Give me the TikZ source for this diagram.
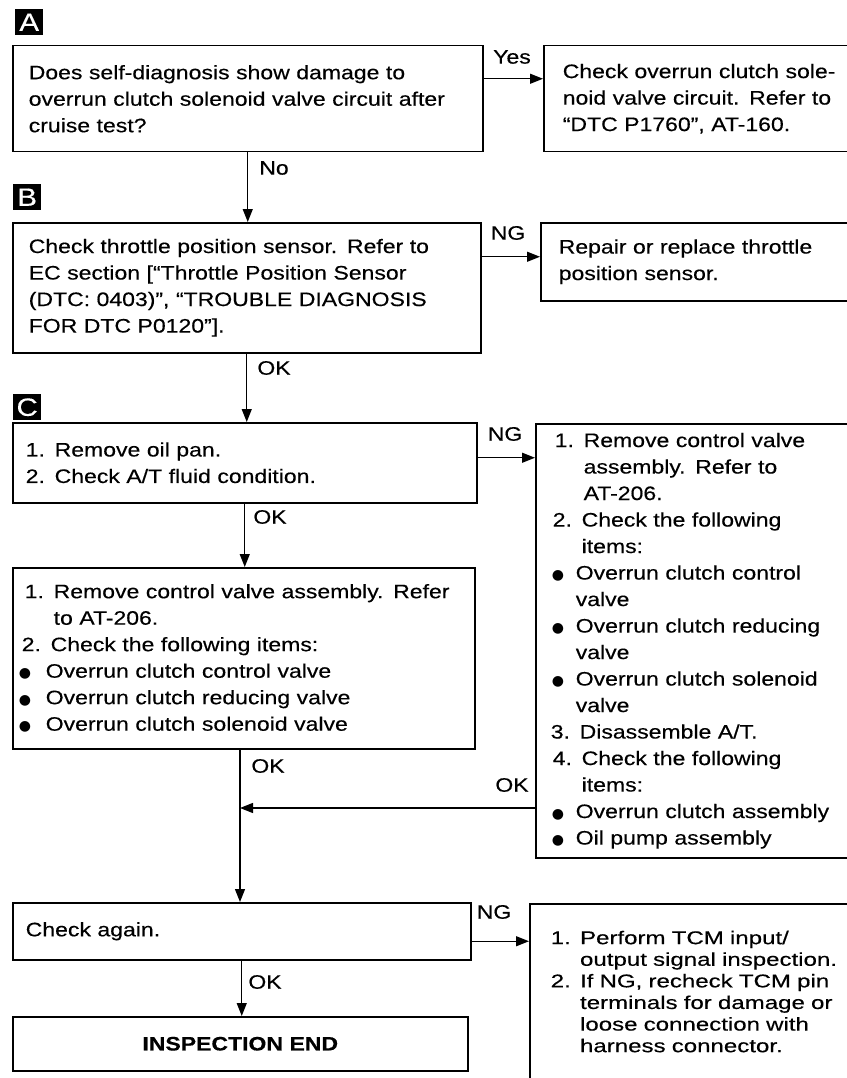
\documentclass[tikz,border=0pt]{standalone}
\usepackage{fontspec}
\setmainfont{Liberation Sans}[FakeStretch=1.18,FakeBold=0.35]
\newfontfamily\widefont{Liberation Sans}[FakeStretch=1.3,FakeBold=0.35]
\newfontfamily\symfont{DejaVu Sans}
\usetikzlibrary{arrows.meta}
\newcommand{\lbx}[2]{\makebox[#1][l]{#2}}
\newcommand{\blt}{{\symfont\fontsize{14}{14}\selectfont ●}}
\tikzset{
  txt/.style={font=\fontsize{19.5}{26.5}\selectfont},
  box/.style={txt, draw, line width=1.5pt, anchor=north west, align=left, inner ysep=0pt},
  arr/.style={line width=1.3pt, -{Triangle[length=13pt,width=10pt]}},
  tag/.style={fill=black, text=white, anchor=north west, inner sep=0pt,
    minimum width=28pt, minimum height=26pt, font=\fontsize{25}{25}\selectfont}
}
\begin{document}
\begin{tikzpicture}[x=1pt,y=-1pt]
\useasboundingbox (0,0) rectangle (846,1078);
% block A
\node[tag] (tA) at (15,9) {A};
\node[box, minimum height=106pt, inner xsep=16pt, text width=438pt] (qA) at (12,45)
  {Does self-diagnosis show damage to\\overrun clutch solenoid valve circuit after\\cruise test?};
\node[box, minimum height=106pt, inner xsep=19pt, text width=290pt] (rA) at (543,45)
  {Check overrun clutch sole-\\noid valve circuit. Refer to\\“DTC P1760”, AT-160.};
\draw[arr] ([yshift=20pt]qA.east) -- ([yshift=20pt]qA.east -| rA.west);
\node[txt] (lyes) at (512,57) {Yes};
% block B
\node[tag] (tB) at (13,184) {B};
\node[box, minimum height=130pt, inner xsep=16pt, text width=436pt] (qB) at (12,222)
  {Check throttle position sensor. Refer to\\EC section [“Throttle Position Sensor\\(DTC: 0403)”, “TROUBLE DIAGNOSIS\\FOR DTC P0120”].};
\node[box, minimum height=78pt, inner xsep=18pt, text width=290pt] (rB) at (540,222)
  {Repair or replace throttle\\position sensor.};
\draw[arr] (qA.south) -- (qA.south |- qB.north);
\node[txt] (lno) at (274,168) {No};
\draw[arr] ([yshift=31pt]qB.east) -- ([yshift=31pt]qB.east -| rB.west);
\node[txt] (lngB) at (508,233) {NG};
% block C
\node[tag] (tC) at (13,394) {C};
\node[box, minimum height=80pt, inner xsep=13pt, text width=438pt] (qC) at (12,422)
  {1. Remove oil pan.\\2. Check A/T fluid condition.};
\node[box, minimum height=434pt, inner xsep=15pt, text width=300pt] (rC) at (535,423)
  {\hspace*{4pt}1. Remove control valve\\
   \hspace*{4pt}\phantom{1. }assembly. Refer to\\
   \hspace*{4pt}\phantom{1. }AT-206.\\
   \hspace*{2pt}2. Check the following\\
   \hspace*{2pt}\phantom{2. }items:\\
   \lbx{25pt}{\hspace{1pt}\blt}Overrun clutch control\\
   \hspace*{25pt}valve\\
   \lbx{25pt}{\hspace{1pt}\blt}Overrun clutch reducing\\
   \hspace*{25pt}valve\\
   \lbx{25pt}{\hspace{1pt}\blt}Overrun clutch solenoid\\
   \hspace*{25pt}valve\\
   3. Disassemble A/T.\\
   \hspace*{2pt}4. Check the following\\
   \hspace*{2pt}\phantom{4. }items:\\
   \lbx{25pt}{\hspace{1pt}\blt}Overrun clutch assembly\\
   \lbx{25pt}{\hspace{1pt}\blt}Oil pump assembly};
\draw[arr] ([yshift=5pt]qC.east) -- ([yshift=5pt]qC.east -| rC.west);
\node[txt] (lngC) at (505,434) {NG};
\draw[arr] (qB.south) -- (qB.south |- qC.north);
\node[txt] (lokB) at (274,368) {OK};
\node[box, minimum height=181pt, inner xsep=6pt, text width=450pt] (sC) at (12,567)
  {\hspace*{6pt}1. Remove control valve assembly. Refer\\
   \hspace*{6pt}\phantom{1. }to AT-206.\\
   \hspace*{3pt}2. Check the following items:\\
   \lbx{27pt}{\blt}Overrun clutch control valve\\
   \lbx{27pt}{\blt}Overrun clutch reducing valve\\
   \lbx{27pt}{\blt}Overrun clutch solenoid valve};
\draw[arr] (qC.south) -- (qC.south |- sC.north);
\node[txt] (lokC) at (270,517) {OK};
% check again
\node[box, minimum height=57pt, inner xsep=13pt, text width=432pt] (chk) at (12,902) {Check again.};
\node[box, inner xsep=21pt, inner ysep=27pt, text width=300pt,
  font=\widefont\fontsize{18.5}{21.6}\selectfont] (rD) at (529,903)
  {1. Perform TCM input/\\
   \phantom{1. }output signal inspection.\\
   2. If NG, recheck TCM pin\\
   \phantom{2. }terminals for damage or\\
   \phantom{2. }loose connection with\\
   \phantom{2. }harness connector.};
\coordinate (okjoin) at (240,808);
\draw[line width=1.3pt] (okjoin |- sC.south) -- (okjoin);
\draw[arr] (okjoin) -- (okjoin |- chk.north);
\draw[arr] (okjoin -| rC.west) -- (okjoin);
\node[txt] (lokS) at (268,766) {OK};
\node[txt] (lokR) at (512,785) {OK};
\draw[arr] ([yshift=-10pt]chk.east) -- ([yshift=-10pt]chk.east -| rD.west);
\node[txt] (lngD) at (494,912) {NG};
% end
\node[box, minimum height=54pt, text width=455pt, inner xsep=0pt, align=center, font=\fontsize{19.5}{26.5}\selectfont\bfseries] (fin) at (12,1016) {INSPECTION END};
\draw[arr] (chk.south) -- (chk.south |- fin.north);
\node[txt] (lokE) at (265,982) {OK};
\end{tikzpicture}
\end{document}
